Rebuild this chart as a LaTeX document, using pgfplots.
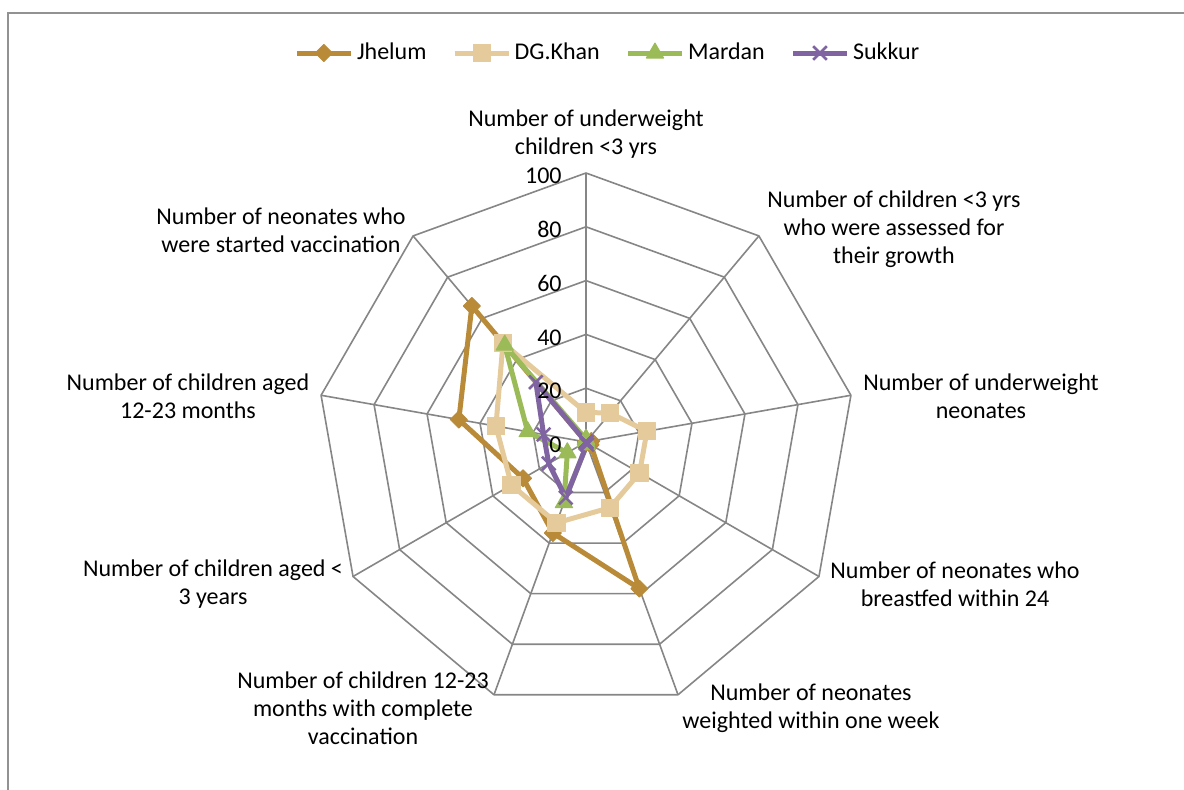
\documentclass[border=0pt]{standalone}
\usepackage{fontspec}
\setmainfont{Carlito}
\usepackage{pgfplots}
\usepackage{pgfplotstable}
\pgfplotsset{compat=1.18}

\definecolor{jhel}{RGB}{185,138,55}
\definecolor{dgk}{RGB}{229,202,156}
\definecolor{mard}{RGB}{155,187,89}
\definecolor{sukk}{RGB}{128,100,162}
\definecolor{gridc}{RGB}{134,134,134}

% angle (deg, clockwise from top) and value per district
\pgfplotstableread{
ang  jh  dg  ma  su
90   0   11  1   0
50   0   14  0   0
10   2   23  0   0
-30  2   23  0   0
-70  58  26  1   1
-110 36  32  24  22
-150 27  32  8   16
170  48  34  22  16
130  66  48  47  29
90   0   11  1   0
}\radar

\begin{document}
\begin{tikzpicture}
\begin{axis}[
  at={(0,0)}, anchor=origin,
  x=1.345pt, y=1.345pt,
  xmin=-100, xmax=100, ymin=-100, ymax=100,
  hide axis, clip=false,
  font=\fontsize{12}{14}\selectfont,
  legend columns=4,
  legend style={at={(axis description cs:0.542,1.223)}, anchor=center,
    draw=none, fill=none, font=\fontsize{12}{14}\selectfont,
    nodes={inner sep=1.8pt},
    /tikz/every even column/.append style={column sep=11pt}},
  legend image code/.code={
    \draw[mark repeat=2,mark phase=2] plot coordinates {(0pt,0pt) (13.5pt,0pt) (27pt,0pt)};},
]
% polygon grid
\pgfplotsinvokeforeach{20,40,60,80,100}{
  \addplot[gridc, line width=0.8pt, line join=round, forget plot, data cs=polar]
    coordinates {(90,#1) (50,#1) (10,#1) (-30,#1) (-70,#1) (-110,#1) (-150,#1) (170,#1) (130,#1) (90,#1)};
}
\pgfplotsinvokeforeach{90,50,10,-30,-70,-110,-150,170,130}{
  \addplot[gridc, line width=0.8pt, forget plot, data cs=polar] coordinates {(#1,0) (#1,100)};
}

\addplot[jhel, line width=2.5pt, line join=round, data cs=polar,
  mark=square*, mark size=3pt, mark options={rotate=45, solid, line width=0.5pt}]
  table[x=ang, y=jh] {\radar};
\addlegendentry{Jhelum}
\addplot[dgk, line width=2.5pt, line join=round, data cs=polar,
  mark=square*, mark size=4.3pt, mark options={solid, line width=0.5pt}]
  table[x=ang, y=dg] {\radar};
\addlegendentry{DG.Khan}
\addplot[mard, line width=2.5pt, line join=round, data cs=polar,
  mark=triangle*, mark size=5pt, mark options={solid, line width=0.5pt}]
  table[x=ang, y=ma] {\radar};
\addlegendentry{Mardan}
\addplot[sukk, line width=2.5pt, line join=round, data cs=polar,
  mark=x, mark size=4.8pt, mark options={solid, line width=1.3pt}]
  table[x=ang, y=su] {\radar};
\addlegendentry{Sukkur}
\end{axis}

% ring values
\foreach \v in {0,20,40,60,80,100}
  \node[anchor=east, inner sep=0pt, font=\fontsize{12}{14}\selectfont]
    at (-12pt,{\v*1.345pt-1.5pt}) {\v};

% category labels
\begin{scope}[every node/.style={align=center, inner sep=0pt, font=\fontsize{12}{14}\selectfont}]
\node at (0pt,154pt) {Number of underweight\\children <3 yrs};
\node at (154pt,106.5pt) {Number of children <3 yrs\\who were assessed for\\their growth};
\node at (197.5pt,23pt) {Number of underweight\\neonates};
\node at (184.5pt,-71pt) {Number of neonates who\\breastfed within 24};
\node at (112.5pt,-133pt) {Number of neonates\\weighted within one week};
\node at (-111.5pt,-133pt) {Number of children 12-23\\months with complete\\vaccination};
\node at (-186.5pt,-71pt) {Number of children aged <\\3 years};
\node at (-199pt,23pt) {Number of children aged\\12-23 months};
\node at (-152.5pt,106pt) {Number of neonates who\\were started vaccination};
\end{scope}

% chart frame (cut by the page)
\draw[gridc!90, line width=1pt] (-289pt,-200pt) -- (-289pt,214.5pt) -- (320pt,214.5pt);

\pgfresetboundingbox
\useasboundingbox (-293pt,-174pt) rectangle (299pt,221pt);
\end{tikzpicture}
\end{document}
